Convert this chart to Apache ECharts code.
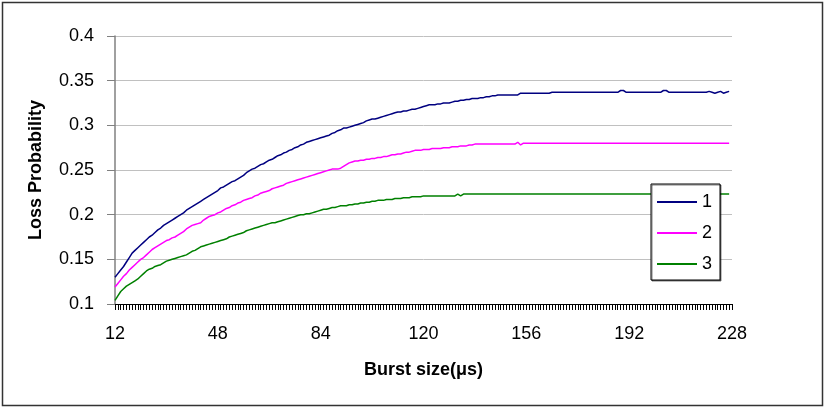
<!DOCTYPE html>
<html>
<head>
<meta charset="utf-8">
<script src="https://cdn.jsdelivr.net/npm/echarts@6/dist/echarts.min.js"></script>
<style>
  html, body { margin: 0; padding: 0; background: #fff; }
  #chart { width: 827px; height: 411px; }
</style>
</head>
<body>
<div id="chart"></div>
<script>
// burst sizes 12..228 us, one category per unit
var burstSizes = [];
for (var b = 12; b <= 228; b++) burstSizes.push(String(b));

var series1 = [
  0.130, 0.134, 0.138, 0.142, 0.147, 0.152, 0.157, 0.160, 0.163, 0.166,
  0.169, 0.172, 0.175, 0.177, 0.180, 0.183, 0.185, 0.188, 0.190, 0.192,
  0.194, 0.196, 0.198, 0.200, 0.202, 0.205, 0.207, 0.209, 0.211, 0.213,
  0.215, 0.217, 0.219, 0.221, 0.223, 0.225, 0.227, 0.230, 0.231, 0.233,
  0.235, 0.237, 0.238, 0.240, 0.242, 0.244, 0.247, 0.249, 0.251, 0.252,
  0.254, 0.256, 0.257, 0.259, 0.261, 0.262, 0.264, 0.266, 0.267, 0.269,
  0.270, 0.272, 0.273, 0.275, 0.276, 0.278, 0.279, 0.281, 0.282, 0.283,
  0.284, 0.285, 0.286, 0.287, 0.288, 0.289, 0.291, 0.292, 0.294, 0.295,
  0.297, 0.297, 0.298, 0.299, 0.300, 0.301, 0.302, 0.303, 0.305, 0.306,
  0.307, 0.307, 0.308, 0.309, 0.310, 0.311, 0.312, 0.313, 0.314, 0.315,
  0.315, 0.316, 0.316, 0.317, 0.318, 0.318, 0.319, 0.320, 0.321, 0.322,
  0.323, 0.323, 0.323, 0.324, 0.324, 0.325, 0.325, 0.325, 0.326, 0.327,
  0.327, 0.328, 0.328, 0.329, 0.329, 0.330, 0.330, 0.330, 0.331, 0.331,
  0.332, 0.332, 0.333, 0.333, 0.334, 0.334, 0.334, 0.334, 0.334, 0.334,
  0.334, 0.334, 0.336, 0.336, 0.336, 0.336, 0.336, 0.336, 0.336, 0.336,
  0.336, 0.336, 0.336, 0.337, 0.337, 0.337, 0.337, 0.337, 0.337, 0.337,
  0.337, 0.337, 0.337, 0.337, 0.337, 0.337, 0.337, 0.337, 0.337, 0.337,
  0.337, 0.337, 0.337, 0.337, 0.337, 0.337, 0.337, 0.339, 0.339, 0.337,
  0.337, 0.337, 0.337, 0.337, 0.337, 0.337, 0.337, 0.337, 0.337, 0.337,
  0.337, 0.337, 0.339, 0.339, 0.337, 0.337, 0.337, 0.337, 0.337, 0.337,
  0.337, 0.337, 0.337, 0.337, 0.337, 0.337, 0.337, 0.337, 0.338, 0.337,
  0.336, 0.337, 0.338, 0.336, 0.337, 0.338
];

var series2 = [
  0.119, 0.123, 0.127, 0.131, 0.134, 0.138, 0.141, 0.144, 0.147, 0.150,
  0.152, 0.155, 0.158, 0.161, 0.163, 0.165, 0.167, 0.169, 0.171, 0.172,
  0.174, 0.175, 0.177, 0.179, 0.181, 0.184, 0.186, 0.188, 0.189, 0.190,
  0.191, 0.194, 0.196, 0.198, 0.199, 0.200, 0.202, 0.203, 0.205, 0.207,
  0.208, 0.210, 0.211, 0.213, 0.214, 0.216, 0.217, 0.218, 0.219, 0.221,
  0.222, 0.224, 0.225, 0.226, 0.227, 0.229, 0.230, 0.231, 0.232, 0.233,
  0.235, 0.236, 0.237, 0.238, 0.239, 0.240, 0.241, 0.242, 0.243, 0.244,
  0.245, 0.246, 0.247, 0.248, 0.249, 0.250, 0.251, 0.251, 0.251, 0.252,
  0.254, 0.256, 0.258, 0.259, 0.260, 0.260, 0.261, 0.261, 0.262, 0.262,
  0.263, 0.263, 0.264, 0.264, 0.265, 0.265, 0.266, 0.267, 0.267, 0.268,
  0.268, 0.269, 0.270, 0.270, 0.271, 0.272, 0.272, 0.272, 0.273, 0.273,
  0.273, 0.274, 0.274, 0.274, 0.274, 0.275, 0.275, 0.275, 0.276, 0.276,
  0.276, 0.277, 0.277, 0.277, 0.278, 0.278, 0.279, 0.279, 0.279, 0.279,
  0.279, 0.279, 0.279, 0.279, 0.279, 0.279, 0.279, 0.279, 0.279, 0.279,
  0.279, 0.281, 0.278, 0.280, 0.280, 0.280, 0.280, 0.280, 0.280, 0.280,
  0.280, 0.280, 0.280, 0.280, 0.280, 0.280, 0.280, 0.280, 0.280, 0.280,
  0.280, 0.280, 0.280, 0.280, 0.280, 0.280, 0.280, 0.280, 0.280, 0.280,
  0.280, 0.280, 0.280, 0.280, 0.280, 0.280, 0.280, 0.280, 0.280, 0.280,
  0.280, 0.280, 0.280, 0.280, 0.280, 0.280, 0.280, 0.280, 0.280, 0.280,
  0.280, 0.280, 0.280, 0.280, 0.280, 0.280, 0.280, 0.280, 0.280, 0.280,
  0.280, 0.280, 0.280, 0.280, 0.280, 0.280, 0.280, 0.280, 0.280, 0.280,
  0.280, 0.280, 0.280, 0.280, 0.280, 0.280
];

var series3 = [
  0.104, 0.109, 0.114, 0.117, 0.120, 0.122, 0.124, 0.126, 0.128, 0.131,
  0.134, 0.137, 0.139, 0.140, 0.142, 0.143, 0.144, 0.146, 0.148, 0.149,
  0.150, 0.151, 0.152, 0.153, 0.154, 0.155, 0.157, 0.159, 0.160, 0.162,
  0.164, 0.165, 0.166, 0.167, 0.168, 0.169, 0.170, 0.171, 0.172, 0.173,
  0.175, 0.176, 0.177, 0.178, 0.179, 0.180, 0.182, 0.183, 0.184, 0.185,
  0.186, 0.187, 0.188, 0.189, 0.190, 0.191, 0.191, 0.192, 0.193, 0.194,
  0.195, 0.196, 0.197, 0.198, 0.199, 0.200, 0.200, 0.201, 0.201, 0.202,
  0.203, 0.204, 0.205, 0.206, 0.206, 0.207, 0.208, 0.208, 0.209, 0.210,
  0.210, 0.210, 0.211, 0.211, 0.212, 0.212, 0.213, 0.213, 0.214, 0.214,
  0.215, 0.215, 0.216, 0.216, 0.216, 0.217, 0.217, 0.217, 0.218, 0.218,
  0.218, 0.219, 0.219, 0.219, 0.220, 0.220, 0.220, 0.220, 0.221, 0.221,
  0.221, 0.221, 0.221, 0.221, 0.221, 0.221, 0.221, 0.221, 0.221, 0.221,
  0.223, 0.221, 0.223, 0.223, 0.223, 0.223, 0.223, 0.223, 0.223, 0.223,
  0.223, 0.223, 0.223, 0.223, 0.223, 0.223, 0.223, 0.223, 0.223, 0.223,
  0.223, 0.223, 0.223, 0.223, 0.223, 0.223, 0.223, 0.223, 0.223, 0.223,
  0.223, 0.223, 0.223, 0.223, 0.223, 0.223, 0.223, 0.223, 0.223, 0.223,
  0.223, 0.223, 0.223, 0.223, 0.223, 0.223, 0.223, 0.223, 0.223, 0.223,
  0.223, 0.223, 0.223, 0.223, 0.223, 0.223, 0.223, 0.223, 0.223, 0.223,
  0.223, 0.223, 0.223, 0.223, 0.223, 0.223, 0.223, 0.223, 0.223, 0.223,
  0.223, 0.223, 0.223, 0.223, 0.223, 0.223, 0.223, 0.223, 0.223, 0.223,
  0.223, 0.223, 0.223, 0.223, 0.223, 0.223, 0.223, 0.223, 0.223, 0.223,
  0.223, 0.223, 0.223, 0.223, 0.223, 0.223
];

var seriesNames = ["1", "2", "3"];
var seriesColors = ["#000080", "#ff00ff", "#008000"];
var seriesData = [series1, series2, series3];

var font = "'Liberation Sans', Arial, sans-serif";
var chart = echarts.init(document.getElementById("chart"));

var option = {
  animation: false,
  textStyle: { fontFamily: font },
  graphic: [{
    type: "rect",
    shape: { x: 2.5, y: 2.5, width: 820, height: 403 },
    style: { fill: "none", stroke: "#333", lineWidth: 1.5 }
  }],
  grid: { left: 115, top: 36, width: 617, height: 268 },
  legend: {
    orient: "vertical",
    left: 651,
    top: 184,
    data: seriesNames,
    icon: "rect",
    itemWidth: 40,
    itemHeight: 2,
    itemGap: 13,
    padding: [9, 8, 7, 6],
    backgroundColor: "#fff",
    borderColor: "#000",
    borderWidth: 1,
    shadowColor: "rgba(0,0,0,0.5)",
    shadowOffsetX: 1,
    shadowOffsetY: 1,
    textStyle: { fontSize: 18, color: "#000", fontFamily: font }
  },
  xAxis: {
    type: "category",
    data: burstSizes,
    boundaryGap: false,
    name: "Burst size(\u03bcs)",
    nameLocation: "middle",
    nameGap: 57,
    nameTextStyle: { fontSize: 18, fontWeight: "bold", color: "#000", verticalAlign: "top" },
    axisLine: { lineStyle: { color: "#000", width: 1 } },
    axisTick: { show: true, interval: 0, length: 6, lineStyle: { color: "#000", width: 1 } },
    axisLabel: { interval: 35, margin: 21, fontSize: 18, color: "#000" },
    splitLine: { show: false }
  },
  yAxis: {
    type: "value",
    min: 0.1,
    max: 0.4,
    interval: 0.05,
    name: "Loss Probability",
    nameLocation: "middle",
    nameGap: 70,
    nameTextStyle: { fontSize: 18, fontWeight: "bold", color: "#000" },
    axisLine: { show: true, lineStyle: { color: "#808080", width: 1.5 } },
    axisTick: { show: true, length: 8, lineStyle: { color: "#808080" } },
    axisLabel: { margin: 21, fontSize: 18, color: "#000" },
    splitLine: { lineStyle: { color: "#c0c0c0", width: 1 } }
  },
  series: seriesData.map(function (d, i) {
    return {
      name: seriesNames[i],
      type: "line",
      data: d,
      symbol: "none",
      color: seriesColors[i],
      lineStyle: { width: 1.5, color: seriesColors[i] }
    };
  })
};
chart.setOption(option);
</script>
</body>
</html>
